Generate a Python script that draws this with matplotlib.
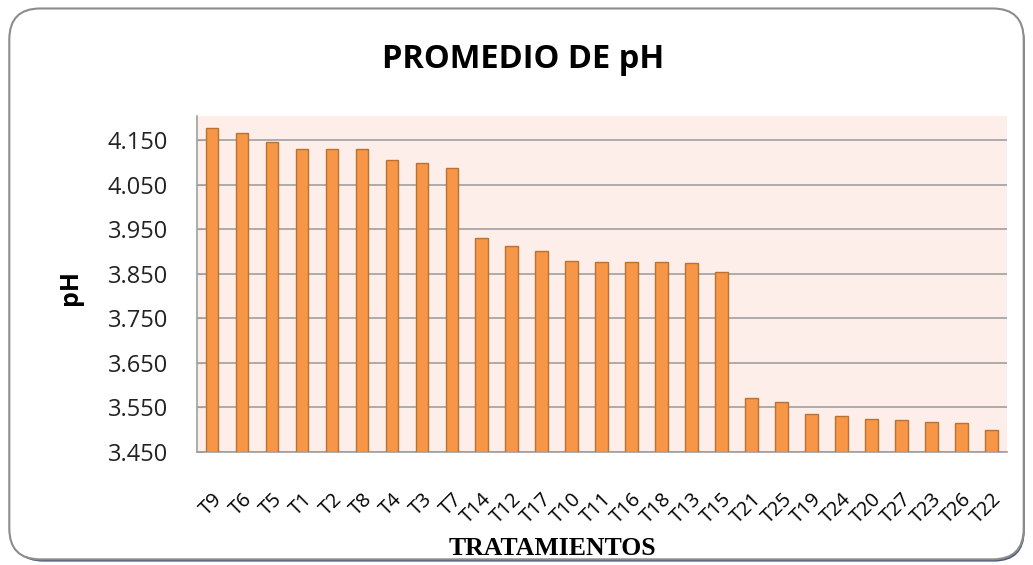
import matplotlib.pyplot as plt
from matplotlib.patches import FancyBboxPatch

# Data
tratamientos = ["T9", "T6", "T5", "T1", "T2", "T8", "T4", "T3", "T7",
                "T14", "T12", "T17", "T10", "T11", "T16", "T18", "T13", "T15",
                "T21", "T25", "T19", "T24", "T20", "T27", "T23", "T26", "T22"]
ph_promedio = [4.178, 4.166, 4.147, 4.130, 4.130, 4.130, 4.105, 4.099, 4.089,
               3.930, 3.912, 3.902, 3.880, 3.877, 3.877, 3.877, 3.874, 3.855,
               3.571, 3.563, 3.535, 3.531, 3.524, 3.521, 3.518, 3.515, 3.500]
y_ticks = [3.450, 3.550, 3.650, 3.750, 3.850, 3.950, 4.050, 4.150]

fig = plt.figure(figsize=(10.33, 5.65), dpi=100)

# rounded chart border with a little shadow
shadow = FancyBboxPatch((0.012, 0.006), 0.98, 0.975, boxstyle="round,pad=0,rounding_size=0.03",
                        transform=fig.transFigure, facecolor="#4a5a78", edgecolor="none",
                        mutation_aspect=1033 / 565, zorder=-2)
border = FancyBboxPatch((0.009, 0.01), 0.982, 0.975, boxstyle="round,pad=0,rounding_size=0.03",
                        transform=fig.transFigure, facecolor="white", edgecolor="#8c8c8c",
                        linewidth=1.5, mutation_aspect=1033 / 565, zorder=-1)
fig.patches.extend([shadow, border])

ax = fig.add_axes([0.1907, 0.2, 0.784, 0.5947])
ax.set_zorder(2)
ax.set_facecolor("#FDEEE9")

x = range(len(tratamientos))
ax.bar(x, [v - 3.45 for v in ph_promedio], bottom=3.45, width=0.43,
       color="#F79646", edgecolor="#B87333", linewidth=1.0, zorder=3)

ax.set_xlim(-0.5, len(tratamientos) - 0.5)
ax.set_ylim(3.45, 4.205)
ax.set_yticks(y_ticks)
ax.set_yticklabels([f"{t:.3f}" for t in y_ticks], fontsize=17, family="Open Sans", color="#222222")
ax.yaxis.grid(True, color="#A0A0A0", linewidth=1.2, zorder=1)
ax.set_axisbelow(True)

ax.set_xticks(list(x))
ax.set_xticklabels(tratamientos, rotation=45, ha="right", rotation_mode="anchor",
                   fontsize=14.5, family="Open Sans")
ax.tick_params(axis="x", length=0, pad=27)
ax.tick_params(axis="y", length=5, direction="in", color="#A0A0A0", pad=21)

for side in ["top", "right"]:
    ax.spines[side].set_visible(False)
ax.spines["left"].set_color("#A0A0A0")
ax.spines["bottom"].set_color("#A0A0A0")
ax.spines["left"].set_linewidth(1.2)
ax.spines["bottom"].set_linewidth(1.2)

fig.text(0.506, 0.895, "PROMEDIO DE pH", ha="center", va="center",
         fontsize=23.5, fontweight="bold", family="Open Sans")
fig.text(0.068, 0.492, "pH", ha="center", va="center", rotation=90,
         fontsize=18, fontweight="bold", family="Open Sans")
fig.text(0.535, 0.029, "TRATAMIENTOS", ha="center", va="center",
         fontsize=18.5, fontweight="bold", family="Liberation Serif")

fig.savefig("out.png", dpi=100)
